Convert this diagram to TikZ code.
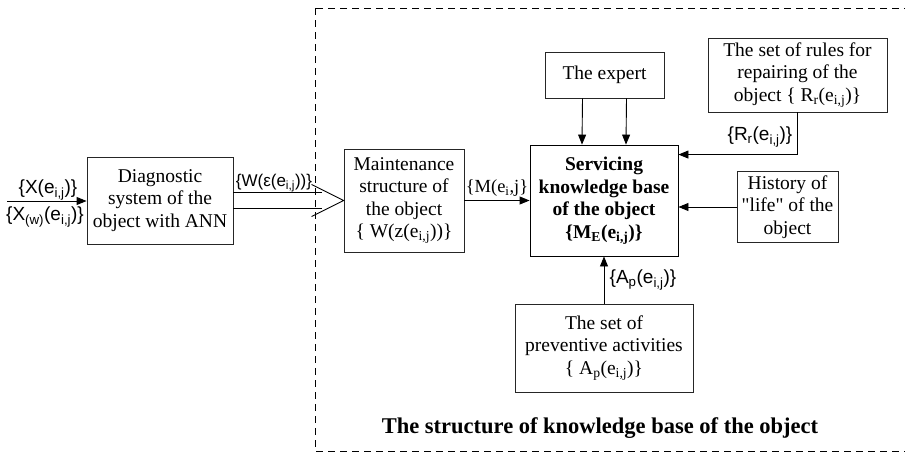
\documentclass[tikz,border=0pt]{standalone}
\usepackage{fontspec}
\setmainfont{Liberation Serif}[Ligatures=TeXOff]
\newfontfamily\labfont{Liberation Sans}[Ligatures=TeXOff]
\usetikzlibrary{arrows.meta,calc}
\begin{document}
\begin{tikzpicture}[x=1pt,y=-1pt,
  box/.style={draw=black!85,line width=0.9pt,align=center,inner sep=0pt,
    font=\fontsize{19.5}{22.5}\selectfont},
  lab/.style={font=\labfont\fontsize{19}{21}\selectfont,inner sep=0pt},
  arr/.style={line width=0.9pt,-{Triangle[length=10pt,width=8pt]}},
  ln/.style={line width=0.9pt},
  frame/.style={line width=0.9pt,dash pattern=on 7pt off 5pt}]
\useasboundingbox (0,0) rectangle (905,453);
\draw[frame] (315,8) rectangle (920,451);

\node[box,minimum width=146,minimum height=87] (diag) at (160,200.5)
  {Diagnostic\\system of the\\object with ANN};
\node[box,minimum width=120,minimum height=103] (maint) at (404,200.5)
  {Maintenance\\structure of\\the object\\\{ W(z(e\textsubscript{i,j}))\}};
\node[box,minimum width=148,minimum height=111,draw=black,font=\bfseries\fontsize{19.5}{22.5}\selectfont] (serv) at (604,200.5)
  {Servicing\\knowledge base\\of the object\\\{M\textsubscript{E}(e\textsubscript{i,j})\}};
\node[box,minimum width=119,minimum height=46] (expert) at (604.5,75) {The expert};
\node[box,minimum width=179,minimum height=74] (rules) at (797.5,75)
  {The set of rules for\\repairing of the\\object \{ R\textsubscript{r}(e\textsubscript{i,j})\}};
\node[box,minimum width=101,minimum height=71] (hist) at (787.5,207)
  {History of\\"life" of the\\object};
\node[box,minimum width=178,minimum height=88] (prev) at (604,348)
  {The set of\\preventive activities\\\{ A\textsubscript{p}(e\textsubscript{i,j})\}};
\node[font=\bfseries\fontsize{22.5}{26}\selectfont,inner sep=0pt] (title) at (600,428)
  {The structure of knowledge base of the object};

% input
\coordinate (in) at (7,201);
\draw[arr] (in) -- (in -| diag.west);
\node[lab] (lx) at (48,190) {\{X(e\textsubscript{i,j})\}};
\node[lab] (lxw) at (45,217) {\{X\textsubscript{(w)}(e\textsubscript{i,j})\}};

% double arrow
\draw[ln] ($(diag.east)+(0,-8)$) -- ($(maint.west)+(-22,-8)$);
\draw[ln] ($(diag.east)+(0,8)$) -- ($(maint.west)+(-22,8)$);
\draw[ln] ($(maint.west)+(-32,-16)$) -- (maint.west) -- ($(maint.west)+(-32,16)$);
\node[lab,font=\labfont\fontsize{17}{19}\selectfont] (lw) at (274,183) {\{W(ε(e\textsubscript{i,j}))\}};

% maint -> serv
\draw[arr] (maint.east) -- (serv.west);
\node[font=\fontsize{18.5}{20}\selectfont,inner sep=0pt] (lm) at (497,188) {\{M(e\textsubscript{i},j\}};

% expert -> serv
\draw[arr] ($(expert.south)+(-22,0)$) -- ($(serv.north)+(-22,0)$);
\draw[arr] ($(expert.south)+(22,0)$) -- ($(serv.north)+(22,0)$);

% rules -> serv
\draw[arr] (rules.south) |- ($(serv.north east)+(0,10)$);
\node[lab] (lr) at (760,137) {\{R\textsubscript{r}(e\textsubscript{i,j})\}};

% history -> serv
\draw[arr] (hist.west) -- (hist.west -| serv.east);

% prev -> serv
\draw[arr] (prev.north) -- (serv.south);
\node[lab] (la) at (643,280) {\{A\textsubscript{p}(e\textsubscript{i,j})\}};
\end{tikzpicture}
\end{document}
